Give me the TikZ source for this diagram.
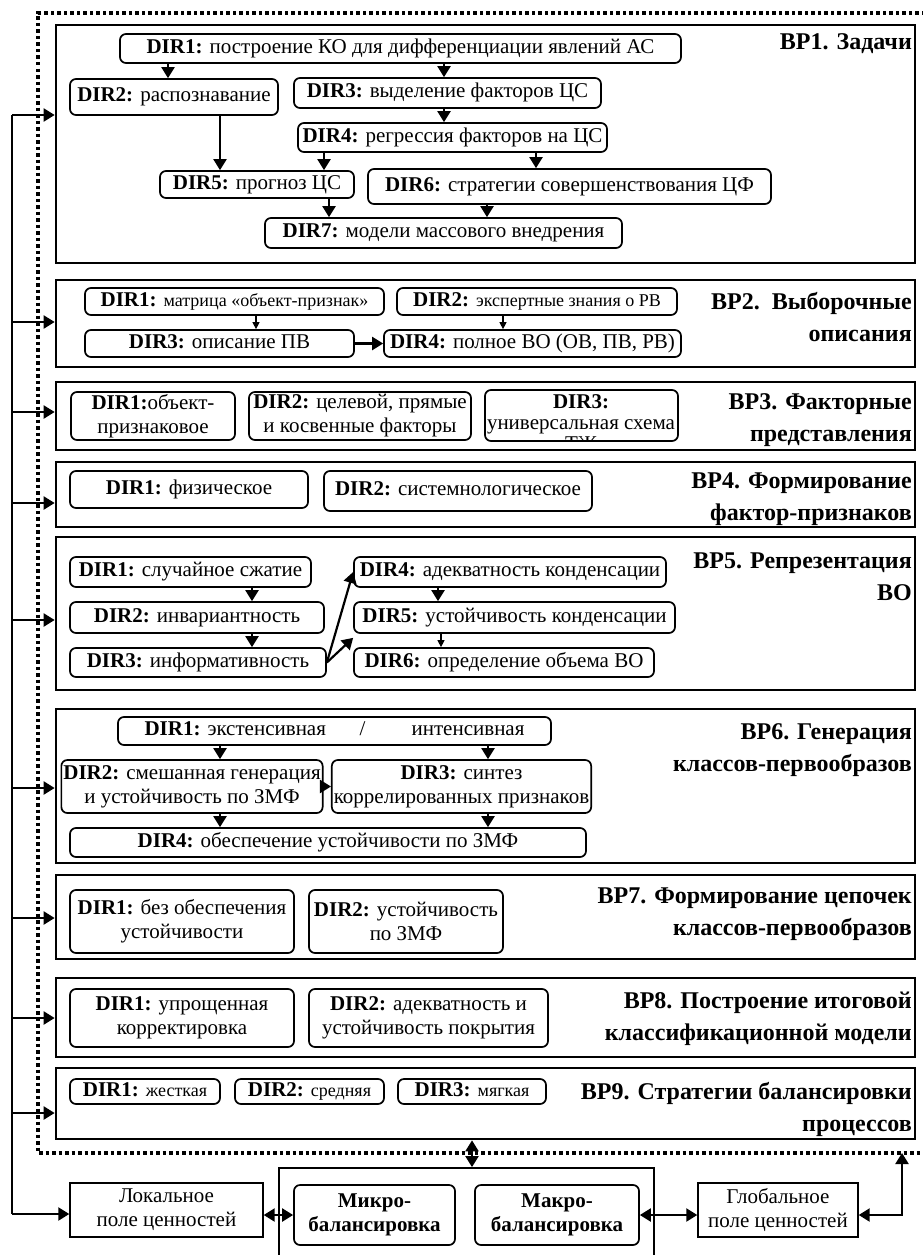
\documentclass[tikz,border=0pt]{standalone}
\usepackage{fontspec}
\setmainfont{Liberation Serif}
\usetikzlibrary{arrows.meta,calc}
\newcommand\placebox[7][]{\node[#1,minimum width={#5pt-#3pt},minimum height={#6pt-#4pt}] (#2) at ({(#3+#5)/2},{(#4+#6)/2}) {#7};}
\newcommand\dirfont{\fontsize{21}{24}\selectfont}
\newcommand\ttlfont{\fontsize{24}{32}\selectfont\bfseries}
\newcommand\smallbody{\fontsize{18}{22}\selectfont}
\tikzset{
 panel/.style={draw,line width=2.7pt,inner sep=0pt},
 dir/.style={draw,line width=1.7pt,rounded corners=6pt,inner sep=2pt,align=center,font=\dirfont},
 oneline/.style={text height=14pt,text depth=5pt},
 plainbox/.style={draw,line width=1.4pt,inner sep=2pt,align=center,font=\dirfont},
 ttl/.style={font=\ttlfont,align=right,anchor=north east,inner sep=0pt},
 arr/.style={line width=2.2pt,-{Triangle[length=11pt,width=13pt]}},
 darr/.style={line width=2.2pt,{Triangle[length=11pt,width=13pt]}-{Triangle[length=11pt,width=13pt]}},
 thinarr/.style={line width=1.1pt,-{Triangle[length=7pt,width=7pt]}},
 conn/.style={line width=2.2pt},
 dotline/.style={line width=3.5pt,dash pattern=on 3.5pt off 3pt},
}
\begin{document}
\begin{tikzpicture}[x=1pt,y=-1pt]
\fill[white] (0,0) rectangle (923,1255);
\useasboundingbox (0,0) rectangle (923,1255);

% outer dotted frame
\draw[dotline] (925,13) -- (38,13) -- (38,1153) -- (925,1153);

% ---------- BP1
\placebox[panel]{p1}{56}{25}{915}{263}{}
\placebox[dir,oneline]{d11}{120}{34}{681}{63}{\textbf{DIR1:} построение КО для дифференциации явлений АС}
\placebox[dir,oneline]{d12}{70}{79}{278}{115}{\textbf{DIR2:} распознавание}
\placebox[dir,oneline]{d13}{294}{78}{601}{108}{\textbf{DIR3:} выделение факторов ЦС}
\placebox[dir,oneline]{d14}{298}{123}{607}{152}{\textbf{DIR4:} регрессия факторов на ЦС}
\placebox[dir,oneline]{d15}{160}{171}{354}{198}{\textbf{DIR5:} прогноз ЦС}
\placebox[dir,oneline]{d16}{368}{169}{771}{204}{\textbf{DIR6:} стратегии совершенствования ЦФ}
\placebox[dir,oneline]{d17}{265}{218}{622}{248}{\textbf{DIR7:} модели массового внедрения}
\node[ttl] (t1) at (912,33) {BP1. Задачи};
\draw[arr] (168,0 |- d11.south) -- (168,0 |- d12.north);
\draw[arr] (444,0 |- d11.south) -- (444,0 |- d13.north);
\draw[arr] (444,0 |- d13.south) -- (444,0 |- d14.north);
\draw[arr] (220,0 |- d12.south) -- (220,0 |- d15.north);
\draw[arr] (324,0 |- d14.south) -- (324,0 |- d15.north);
\draw[arr] (536,0 |- d14.south) -- (536,0 |- d16.north);
\draw[arr] (329,0 |- d15.south) -- (329,0 |- d17.north);
\draw[arr] (487,0 |- d16.south) -- (487,0 |- d17.north);

% ---------- BP2
\placebox[panel]{p2}{56}{280}{915}{367}{}
\placebox[dir,oneline]{d21}{85}{288}{384}{315}{\textbf{DIR1:} {\smallbody матрица «объект-признак»}}
\placebox[dir,oneline]{d22}{397}{288}{677}{315}{\textbf{DIR2:} {\smallbody экспертные знания о РВ}}
\placebox[dir,oneline]{d23}{85}{330}{354}{357}{\textbf{DIR3:} описание ПВ}
\placebox[dir,oneline]{d24}{384}{330}{681}{357}{\textbf{DIR4:} полное ВО (ОВ, ПВ, РВ)}
\node[ttl] (t2) at (912,292) {BP2.\ \ Выборочные\\описания};
\draw[thinarr] (256,0 |- d21.south) -- (256,0 |- d23.north);
\draw[thinarr] (503,0 |- d22.south) -- (503,0 |- d24.north);
\draw[arr] (d23.east) -- (d24.west |- d23.east);

% ---------- BP3
\placebox[panel]{p3}{56}{382}{915}{450}{}
\placebox[dir]{d31}{71}{392}{235}{440}{\textbf{DIR1:}объект-\\признаковое}
\placebox[dir]{d32}{249}{392}{471}{440}{\textbf{DIR2:} целевой, прямые\\и косвенные факторы}
\placebox[dir]{d33}{485}{390}{678}{441}{}
\begin{scope}
\clip (487,392) rectangle (676,440);
\node[font=\fontsize{21}{21}\selectfont,align=center,anchor=north,inner sep=0pt] (d33t) at (581,394) {\textbf{DIR3:}\\универсальная схема\\ТЖ};
\end{scope}
\node[ttl] (t3) at (912,393) {BP3. Факторные\\представления};

% ---------- BP4
\placebox[panel]{p4}{56}{462}{915}{527}{}
\placebox[dir,oneline]{d41}{70}{471}{308}{508}{\textbf{DIR1:} физическое}
\placebox[dir,oneline]{d42}{324}{471}{592}{511}{\textbf{DIR2:} системнологическое}
\node[ttl] (t4) at (912,472) {BP4. Формирование\\фактор-признаков};

% ---------- BP5
\placebox[panel]{p5}{56}{537}{915}{690}{}
\placebox[dir,oneline]{d51}{70}{557}{311}{587}{\textbf{DIR1:} случайное сжатие}
\placebox[dir,oneline]{d52}{70}{602}{324}{633}{\textbf{DIR2:} инвариантность}
\placebox[dir,oneline]{d53}{70}{648}{326}{677}{\textbf{DIR3:} информативность}
\placebox[dir,oneline]{d54}{354}{557}{666}{587}{\textbf{DIR4:} адекватность конденсации}
\placebox[dir,oneline]{d55}{354}{602}{675}{633}{\textbf{DIR5:} устойчивость конденсации}
\placebox[dir,oneline]{d56}{354}{648}{654}{677}{\textbf{DIR6:} определение объема ВО}
\node[ttl] (t5) at (912,553) {BP5. Репрезентация\\ВО};
\draw[arr] (252,0 |- d51.south) -- (252,0 |- d52.north);
\draw[arr] (252,0 |- d52.south) -- (252,0 |- d53.north);
\draw[arr] (438,0 |- d54.south) -- (438,0 |- d55.north);
\draw[thinarr] (441,0 |- d55.south) -- (441,0 |- d56.north);
\draw[arr] (d53.east) -- (d54.west);
\draw[arr] (d53.east) -- ($(d55.south west)!0.3!(d56.north west)$);

% ---------- BP6
\placebox[panel]{p6}{56}{709}{915}{863}{}
\placebox[dir,oneline]{d61}{118}{717}{551}{745}{\textbf{DIR1:} экстенсивная\hspace{1.6em}/\hspace{2.2em}интенсивная}
\placebox[dir]{d62}{64}{760}{320}{813}{\textbf{DIR2:} смешанная генерация\\и устойчивость по ЗМФ}
\placebox[dir]{d63}{340}{760}{583}{813}{\textbf{DIR3:} синтез\\коррелированных признаков}
\placebox[dir,oneline]{d64}{70}{828}{586}{857}{\textbf{DIR4:} обеспечение устойчивости по ЗМФ}
\node[ttl] (t6) at (912,723) {BP6. Генерация\\классов-первообразов};
\draw[arr] (220,0 |- d61.south) -- (220,0 |- d62.north);
\draw[arr] (488,0 |- d61.south) -- (488,0 |- d63.north);
\draw[arr] (220,0 |- d62.south) -- (220,0 |- d64.north);
\draw[arr] (488,0 |- d63.south) -- (488,0 |- d64.north);
\draw[arr] (d62.east) -- (d63.west |- d62.east);

% ---------- BP7
\placebox[panel]{p7}{56}{875}{915}{959}{}
\placebox[dir]{d71}{70}{890}{294}{953}{\textbf{DIR1:} без обеспечения\\устойчивости}
\placebox[dir]{d72}{309}{890}{503}{953}{\textbf{DIR2:} устойчивость\\по ЗМФ}
\node[ttl] (t7) at (912,888) {BP7. Формирование цепочек\\классов-первообразов};

% ---------- BP8
\placebox[panel]{p8}{56}{978}{915}{1057}{}
\placebox[dir]{d81}{70}{989}{294}{1047}{\textbf{DIR1:} упрощенная\\корректировка}
\placebox[dir]{d82}{309}{989}{548}{1047}{\textbf{DIR2:} адекватность и\\устойчивость покрытия}
\node[ttl] (t8) at (912,992) {BP8. Построение итоговой\\классификационной модели};

% ---------- BP9
\placebox[panel]{p9}{56}{1068}{915}{1139}{}
\placebox[dir,oneline]{d91}{70}{1079}{220}{1104}{\textbf{DIR1:} {\smallbody жесткая}}
\placebox[dir,oneline]{d92}{235}{1079}{384}{1104}{\textbf{DIR2:} {\smallbody средняя}}
\placebox[dir,oneline]{d93}{398}{1079}{546}{1104}{\textbf{DIR3:} {\smallbody мягкая}}
\node[ttl] (t9) at (912,1082) {BP9. Стратегии балансировки\\процессов};

% ---------- bottom
\placebox[draw,line width=1.8pt]{cbox}{279}{1168}{654}{1264}{}
\placebox[plainbox]{loc}{70}{1183}{263}{1237}{Локальное\\поле ценностей}
\placebox[dir]{mic}{294}{1185}{455}{1245}{\textbf{Микро-}\\\textbf{балансировка}}
\placebox[dir]{mac}{475}{1185}{639}{1245}{\textbf{Макро-}\\\textbf{балансировка}}
\placebox[plainbox]{glo}{698}{1183}{858}{1237}{Глобальное\\поле ценностей}

\draw[darr] (472,0 |- p9.south) -- (472,0 |- cbox.north);
\draw[darr] (loc.east |- mic.west) -- (mic.west);
\draw[darr] (mac.east) -- (glo.west |- mac.east);
\coordinate (gr) at (902,1153);
\draw[darr] (glo.east |- mac.east) -| (gr);

% ---------- left feedback line
\coordinate (L1) at (12,115);
\coordinate (L2) at (12,322);
\coordinate (L3) at (12,412);
\coordinate (L4) at (12,503);
\coordinate (L5) at (12,620);
\coordinate (L6) at (12,788);
\coordinate (L7) at (12,918);
\coordinate (L8) at (12,1018);
\coordinate (L9) at (12,1113);
\coordinate (Lb) at (12,1214);
\draw[conn] (L1) -- (Lb);
\foreach \i in {1,...,9}{\draw[arr] (L\i) -- (L\i -| p\i.west);}
\draw[arr] (Lb) -- (Lb -| loc.west);
\end{tikzpicture}
\end{document}
